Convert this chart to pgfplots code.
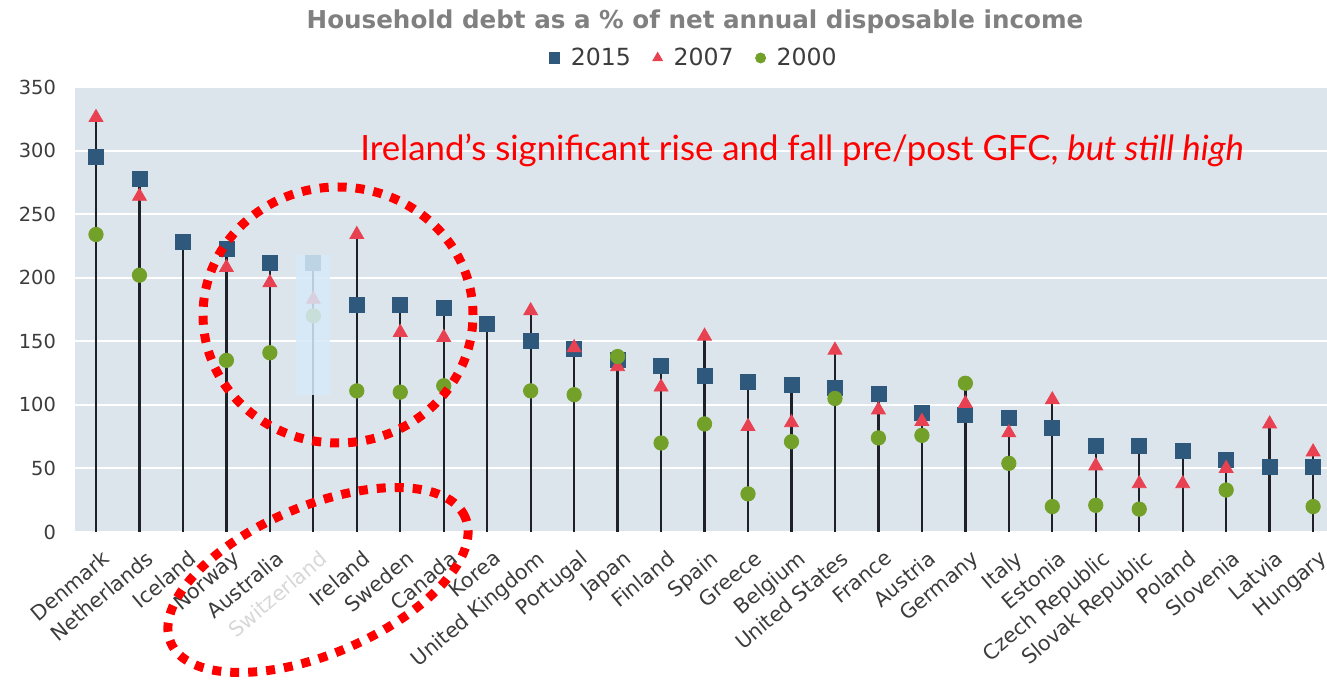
\documentclass[border=0pt]{standalone}
\usepackage{fontspec}
\setmainfont{DejaVu Sans}
\newfontfamily\notefont{Lato}
\usepackage{pgfplots}
\pgfplotsset{compat=1.18}
\usepackage{pgfplotstable}

\definecolor{bgcol}{RGB}{221,229,236}
\definecolor{sqcol}{RGB}{47,89,124}
\definecolor{tricol}{RGB}{232,66,82}
\definecolor{circcol}{RGB}{114,160,40}
\definecolor{stemcol}{RGB}{30,34,40}
\definecolor{tickcol}{RGB}{60,60,60}
\definecolor{titlecol}{RGB}{128,128,128}
\definecolor{swcol}{RGB}{214,234,248}
\definecolor{swgray}{RGB}{215,215,215}

% household debt, % of net disposable income
\pgfplotstableread{
x  s15 s07 s00 top
0  295 326 234 326
1  278 264 202 278
2  228 nan nan 228
3  223 208 135 223
4  212 196 141 212
5  212 183 170 212
6  179 234 111 234
7  179 157 110 179
8  176 153 115 176
9  164 nan nan 164
10 150 174 111 174
11 144 145 108 145
12 135 130 138 138
13 131 114 70  131
14 123 154 85  154
15 118 83  30  118
16 116 86  71  116
17 113 143 105 143
18 109 96  74  109
19 94  87  76  94
20 92  101 117 117
21 90  78  54  90
22 82  104 20  104
23 68  52  21  68
24 68  38  18  68
25 64  38  nan 64
26 57  50  33  57
27 51  85  nan 85
28 51  63  20  63
}\debt

\begin{document}
\begin{tikzpicture}
\useasboundingbox (-37.5pt,-74pt) rectangle (626pt,266pt);
\begin{axis}[
    at={(0pt,0pt)}, anchor=south west,
    scale only axis, width=626pt, height=222.5pt,
    xmin=-0.483, xmax=28.32, ymin=0, ymax=350,
    ytick={0,50,...,350},
    xtick={0,...,28},
    xticklabels={Denmark,Netherlands,Iceland,Norway,Australia,{\color{swgray}Switzerland},Ireland,Sweden,Canada,Korea,United Kingdom,Portugal,Japan,Finland,Spain,Greece,Belgium,United States,France,Austria,Germany,Italy,Estonia,Czech Republic,Slovak Republic,Poland,Slovenia,Latvia,Hungary},
    axis background/.style={fill=bgcol},
    axis line style={draw=none},
    major tick length=0pt,
    ymajorgrids,
    grid style={white, line width=1pt},
    tick label style={text=tickcol},
    /pgf/number format/assume math mode=true,
    yticklabel style={anchor=east, xshift=-6pt, font=\fontsize{9.7}{11}\selectfont},
    xticklabel style={rotate=40, anchor=north east, inner sep=0pt, yshift=-8pt, xshift=-3.5pt,
        font=\fontsize{10.3}{12}\selectfont},
    clip=false,
    legend columns=3,
    legend image post style={scale=0.7},
    legend style={draw=none, fill=none, at={(0.4952,1.0652)}, anchor=center,
        font=\fontsize{11.8}{13}\selectfont, text=tickcol,
        /tikz/every odd column/.append style={column sep=3.5pt},
        /tikz/every even column/.append style={column sep=9pt}},
]
\addplot[ycomb, draw=stemcol, line width=1.15pt, mark=none, forget plot] table[x=x, y=top] {\debt};
\addplot[only marks, mark=square*, mark size=3.75pt, color=sqcol] table[x=x, y=s15] {\debt};
\addplot[only marks, mark=triangle*, mark size=4pt, color=tricol] table[x=x, y=s07] {\debt};
\addplot[only marks, mark=*, mark size=3.6pt, color=circcol] table[x=x, y=s00] {\debt};
\legend{2015,2007,2000}
\end{axis}

% faded highlight over Switzerland
\fill[swcol, opacity=0.85] (110.5pt,68.5pt) rectangle (127.5pt,138.5pt);

\node[font=\bfseries\fontsize{12.3}{14}\selectfont, text=titlecol] at (310pt,255pt)
    {Household debt as a \% of net annual disposable income};

\node[anchor=west, text=red, font=\notefont\fontsize{17.4}{19}\selectfont, inner sep=0pt] at (142.5pt,191pt)
    {Ireland’s significant rise and fall pre/post GFC, \textit{but still high}};

\draw[red, line width=4.5pt, dash pattern=on 4.5pt off 4.5pt] (131.5pt,108.5pt) ellipse [x radius=67.5pt, y radius=64pt];
\draw[red, line width=4.5pt, dash pattern=on 4.5pt off 4.5pt, rotate around={23:(121.5pt,-24pt)}] (121.5pt,-24pt) ellipse [x radius=80pt, y radius=37pt];
\end{tikzpicture}
\end{document}
